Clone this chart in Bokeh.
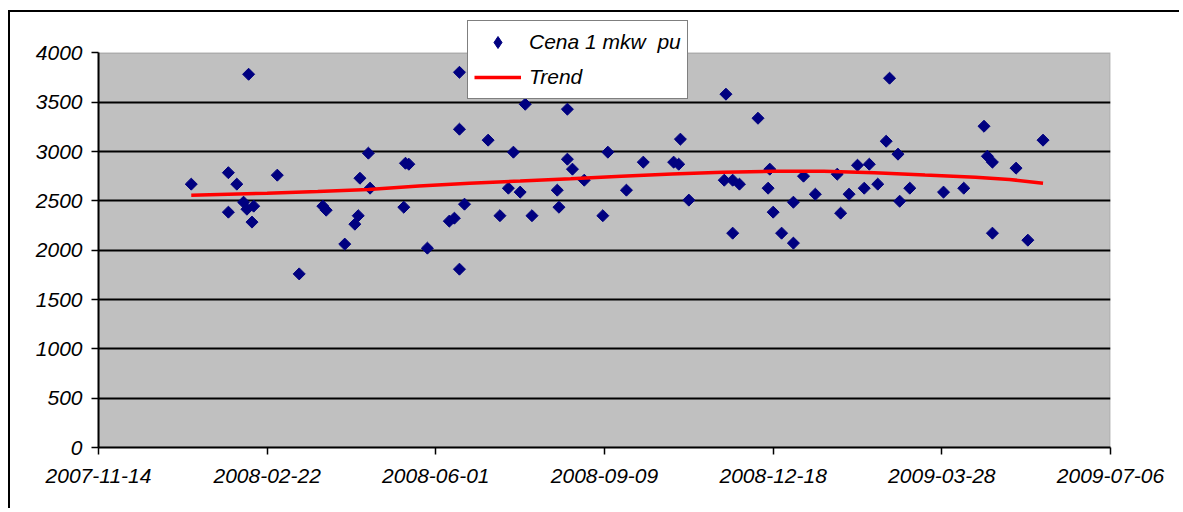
import numpy as np
import pandas as pd
from bokeh.plotting import figure
from bokeh.models import (Range1d, FixedTicker, DatetimeTickFormatter, Legend, LegendItem,
                          ColumnDataSource, BoxAnnotation)
from bokeh.embed import file_html
from bokeh.resources import INLINE

# ---------------- data ----------------
price_dates = [
    "2008-01-08", "2008-01-30", "2008-01-30", "2008-02-04", "2008-02-08", "2008-02-11",
    "2008-02-10", "2008-02-13", "2008-02-14", "2008-02-28", "2008-03-12", "2008-03-26",
    "2008-03-28", "2008-04-08", "2008-04-14", "2008-04-16", "2008-04-17", "2008-04-22",
    "2008-04-23", "2008-05-13", "2008-05-14", "2008-05-16", "2008-05-27", "2008-06-09",
    "2008-06-12", "2008-06-15", "2008-06-15", "2008-06-15", "2008-06-18", "2008-07-02",
    "2008-07-09", "2008-07-14", "2008-07-17", "2008-07-21", "2008-07-24", "2008-07-28",
    "2008-08-12", "2008-08-13", "2008-08-18", "2008-08-18", "2008-08-21", "2008-08-28",
    "2008-09-08", "2008-09-11", "2008-09-22", "2008-10-02", "2008-10-20", "2008-10-23",
    "2008-10-24", "2008-10-29", "2008-11-20", "2008-11-19", "2008-11-24", "2008-11-28",
    "2008-11-24", "2008-12-09", "2008-12-16", "2008-12-15", "2008-12-18", "2008-12-23",
    "2008-12-30", "2008-12-30", "2009-01-05", "2009-01-12", "2009-01-25", "2009-01-27",
    "2009-02-01", "2009-02-06", "2009-02-10", "2009-02-13", "2009-02-18", "2009-02-23",
    "2009-02-25", "2009-03-02", "2009-03-03", "2009-03-09", "2009-03-29", "2009-04-10",
    "2009-04-22", "2009-04-24", "2009-04-27", "2009-04-27", "2009-05-11", "2009-05-18",
    "2009-05-27",
]
price_values = [
    2670, 2786, 2386, 2670, 2487, 3784,
    2416, 2285, 2447, 2761, 1760, 2447,
    2406, 2062, 2264, 2350, 2730, 2984,
    2629, 2436, 2882, 2872, 2021, 2295,
    2325, 3804, 3227, 1808, 2467, 3116,
    2350, 2629, 2994, 2589, 3480, 2350,
    2609, 2436, 3430, 2923, 2822, 2710,
    2350, 2994, 2609, 2893, 2893, 2872,
    3126, 2508, 3582, 2710, 2710, 2670,
    2173, 3338, 2822, 2629, 2386, 2173,
    2487, 2072, 2751, 2568, 2771, 2376,
    2568, 2862, 2629, 2872, 2670, 3105,
    3744, 2974, 2497, 2629, 2589, 2629,
    3257, 2953, 2893, 2173, 2832, 2102,
    3116,
]

trend_dates = [
    "2008-01-08", "2008-02-22", "2008-03-23", "2008-04-22", "2008-05-22", "2008-06-21",
    "2008-07-21", "2008-08-20", "2008-09-19", "2008-10-19", "2008-11-18", "2008-12-18",
    "2009-01-17", "2009-02-16", "2009-03-18", "2009-04-17", "2009-05-07", "2009-05-27",
]
trend_values = [
    2558, 2578, 2596, 2616, 2650, 2680,
    2702, 2725, 2750, 2772, 2790, 2800,
    2800, 2785, 2762, 2740, 2718, 2680,
]

x_tick_labels = ["2007-11-14", "2008-02-22", "2008-06-01", "2008-09-09",
                 "2008-12-18", "2009-03-28", "2009-07-06"]
y_ticks = [0, 500, 1000, 1500, 2000, 2500, 3000, 3500, 4000]
y_grid = [500, 1000, 1500, 2000, 2500, 3000, 3500]
y_max = 4000
y_view_top = 4329  # extra room above the plot area so the legend can sit there

series_label = "Cena 1 mkw\u00a0 pu"
trend_label = "Trend"

# ---------------- figure ----------------
x_ticks_dt = pd.to_datetime(x_tick_labels)
x_ticks_ms = [t.timestamp() * 1000 for t in x_ticks_dt]

p = figure(width=1171, height=498, x_axis_type="datetime",
           output_backend="svg", toolbar_location=None,
           x_range=Range1d(x_ticks_dt[0], x_ticks_dt[-1]),
           y_range=Range1d(0, y_view_top),
           min_border_left=88, min_border_right=71,
           min_border_top=8, min_border_bottom=63)
p.styles = {"border-top": "2px solid black", "border-left": "2px solid black",
            "margin-left": "8px", "margin-top": "10px"}

p.background_fill_color = "white"
p.border_fill_color = "white"
p.outline_line_color = None

area = BoxAnnotation(left=x_ticks_dt[0], right=x_ticks_dt[-1], bottom=0, top=y_max,
                     fill_color="#C0C0C0", fill_alpha=1, line_color="#808080",
                     line_width=2, level="image")
p.add_layout(area)

src = ColumnDataSource(dict(x=pd.to_datetime(price_dates), y=price_values))
sc = p.scatter("x", "y", source=src, marker="square", angle=np.pi / 4, size=8.5,
               fill_color="#000080", line_color="#000080")
tr = p.line(pd.to_datetime(trend_dates), trend_values, line_color="#FF0000", line_width=3.5)

# legend-only swatch (legends do not rotate markers, so use a diamond key);
# its single row holds no position, so nothing is drawn in the plot area
key_src = ColumnDataSource(dict(x=[np.nan], y=[np.nan]))
sc_key = p.scatter("x", "y", source=key_src, marker="diamond", size=12,
                   fill_color="#000080", line_color="#000080")

# axes
fnt = "Liberation Sans"
for ax in (p.xaxis[0], p.yaxis[0]):
    ax.axis_line_color = "black"
    ax.axis_line_width = 2
    ax.major_tick_line_color = "black"
    ax.major_tick_line_width = 1.5
    ax.major_tick_out = 7
    ax.major_tick_in = 0
    ax.minor_tick_line_color = None
    ax.major_label_text_font = fnt
    ax.major_label_text_font_style = "italic"
    ax.major_label_text_font_size = "21px"
    ax.major_label_text_color = "black"

p.xaxis[0].ticker = FixedTicker(ticks=x_ticks_ms)
p.xaxis[0].formatter = DatetimeTickFormatter(
    milliseconds="%Y-%m-%d", seconds="%Y-%m-%d", minsec="%Y-%m-%d", minutes="%Y-%m-%d",
    hourmin="%Y-%m-%d", hours="%Y-%m-%d", days="%Y-%m-%d", months="%Y-%m-%d",
    years="%Y-%m-%d")
p.xaxis[0].major_label_standoff = 14
p.yaxis[0].ticker = FixedTicker(ticks=y_ticks)
p.yaxis[0].bounds = (0, y_max)
p.yaxis[0].major_label_standoff = 9

p.xgrid.visible = False
p.ygrid[0].ticker = FixedTicker(ticks=y_grid)
p.ygrid[0].grid_line_color = "black"
p.ygrid[0].grid_line_width = 2

legend = Legend(items=[LegendItem(label=series_label, renderers=[sc_key]),
                       LegendItem(label=trend_label, renderers=[tr])],
                location=(369, 348), orientation="vertical")
legend.label_text_font = fnt
legend.label_text_font_style = "italic"
legend.label_text_font_size = "21px"
legend.label_text_color = "black"
legend.border_line_color = "black"
legend.border_line_width = 1.5
legend.background_fill_color = "white"
legend.background_fill_alpha = 1
legend.padding = 6
legend.margin = 0
legend.spacing = 5
legend.glyph_width = 47
legend.glyph_height = 30
legend.label_height = 30
legend.label_standoff = 8
p.add_layout(legend, "center")

open("out.html", "w").write(file_html(p, INLINE))
